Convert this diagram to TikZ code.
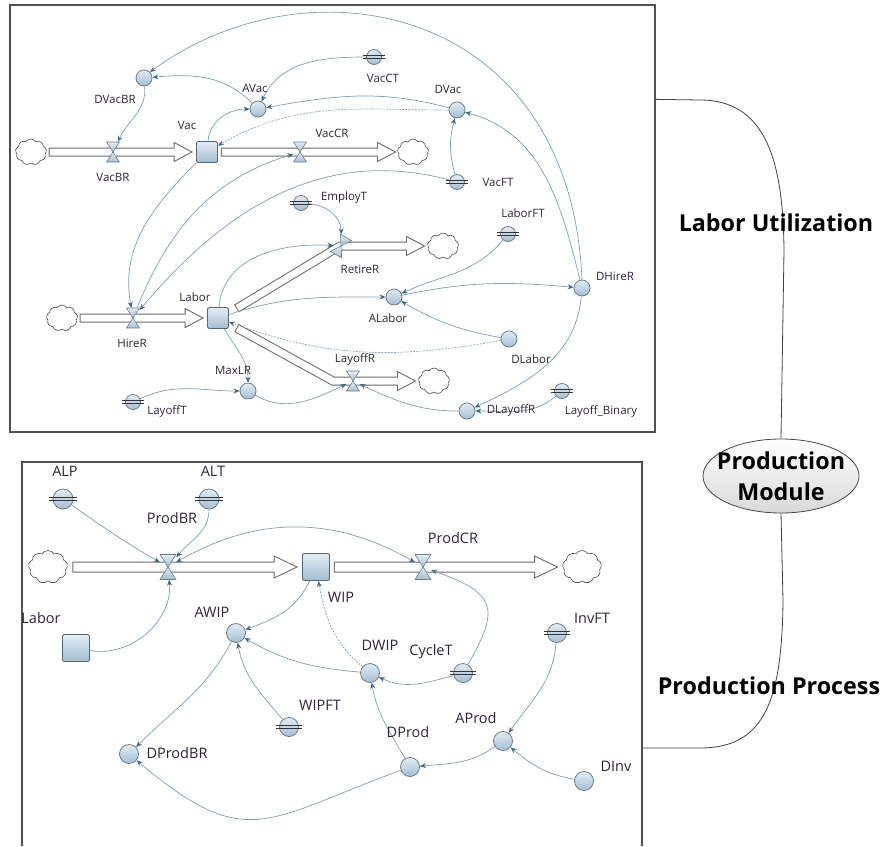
\documentclass[tikz,border=0pt]{standalone}
\usepackage{fontspec}
\setmainfont{Open Sans}
\usetikzlibrary{arrows.meta,calc,shapes.geometric,shapes.symbols}
\definecolor{lnc}{HTML}{7F9DB6}
\definecolor{arc}{HTML}{3F6A8C}
\definecolor{txc}{HTML}{2E2438}
\definecolor{edg}{HTML}{6E7D8A}
\definecolor{fillt}{HTML}{E2EDF5}
\definecolor{fillb}{HTML}{A3BDD2}
\definecolor{pipec}{HTML}{6A6A6A}
\definecolor{panelc}{HTML}{505050}
\tikzset{
 conn/.style={draw=lnc, line width=0.7pt, -{Stealth[length=6pt,width=5pt,color=arc]}},
 biconn/.style={draw=lnc, line width=0.7pt, {Stealth[length=6pt,width=5pt,color=arc]}-{Stealth[length=6pt,width=5pt,color=arc]}},
 dotc/.style={conn, dash pattern=on 1.8pt off 1.4pt},
 aux/.style={circle, draw=edg, line width=0.8pt, top color=fillt, bottom color=fillb, inner sep=0pt, minimum size=#1},
 stock/.style={rectangle, rounded corners=2pt, draw=edg!80!black, line width=0.9pt, top color=fillt, bottom color=fillb, inner sep=0pt, minimum size=#1},
 valvenode/.style={rectangle, inner sep=0pt, draw=none},
 valvefill/.style={draw=edg, line width=0.6pt, top color=fillt, bottom color=fillb, line join=round},
 barc/.style={draw=black!80, line width=1.1pt},
 cloudT/.style={cloud, cloud puffs=9, cloud puff arc=115, cloud ignores aspect, draw=gray!60!black, line width=0.6pt, fill=white, inner sep=0pt, minimum width=31pt, minimum height=26pt},
 cloudB/.style={cloudT, minimum width=39pt, minimum height=33pt},
 pipeo/.style={draw=pipec, line width=#1, line join=miter},
 pipei/.style={draw=white, line width=#1, line join=miter, shorten <=1pt, shorten >=-1.3pt},
 pipeh/.style={draw=pipec, fill=white, line width=0.9pt, line join=miter},
 labT/.style={text=txc, font=\fontsize{11.5}{13}\selectfont, inner sep=0pt},
 labB/.style={text=txc, font=\fontsize{14.5}{16}\selectfont, inner sep=0pt},
 bigl/.style={text=black, font=\fontsize{23.3}{31}\selectfont\bfseries, inner sep=0pt, align=center},
 panel/.style={draw=panelc, line width=1.3pt},
 brace/.style={draw=black!75, line width=0.8pt},
}
\newcommand\mkvalve[6]{%
 \node[valvenode, minimum width=#4pt, minimum height=#5pt, rotate=#6] (#1) at (#2,#3) {};
 \begin{scope}[shift={(#2,#3)}, rotate=#6]
  \path[valvefill] ({-#4/2},{#5/2}) -- ({#4/2},{#5/2}) -- (0,0) -- cycle;
  \path[valvefill] ({-#4/2},{-#5/2}) -- ({#4/2},{-#5/2}) -- (0,0) -- cycle;
 \end{scope}}
\newcommand\constnode[4]{%
 \node[aux=#4pt] (#1) at (#2,#3) {};
 \draw[barc] ($(#1.west)+(-3.5,1.3)$) -- ($(#1.east)+(3.5,1.3)$);
 \draw[barc] ($(#1.west)+(-3.5,-1.3)$) -- ($(#1.east)+(3.5,-1.3)$);}
\newcommand\pipeT[2]{%
 \draw[pipeo=9pt] #1;
 \filldraw[pipeh] ($(#2)+(-18,9.5)$) -- (#2) -- ($(#2)+(-18,-9.5)$) -- cycle;
 \draw[pipei=7pt] #1;}
\newcommand\pipeB[2]{%
 \draw[pipeo=11pt] #1;
 \filldraw[pipeh] ($(#2)+(-23,11)$) -- (#2) -- ($(#2)+(-23,-11)$) -- cycle;
 \draw[pipei=9pt] #1;}
\begin{document}
\begin{tikzpicture}[x=1pt,y=1pt]
\useasboundingbox (0,0) rectangle (885,-846);
% panels
\node[panel, minimum width=645pt, minimum height=427pt, inner sep=0pt] (topP) at (332.5,-218.5) {};
\coordinate (bp1) at (22,-846);
\coordinate (bp2) at (22,-462);
\coordinate (bp3) at (642,-462);
\coordinate (bp4) at (642,-846);
\draw[panel] (bp1) -- (bp2) -- (bp3) -- (bp4);

% ---------- top panel nodes ----------
\node[cloudT] (c1) at (31,-152) {};
\node[stock=21pt] (Vac) at (207,-152) {};
\node[cloudT] (c2) at (413,-152) {};
\node[cloudT] (c3) at (62,-318) {};
\node[stock=21pt] (Labor) at (218,-318) {};
\node[cloudT] (c4) at (443,-246) {};
\node[cloudT] (c5) at (434,-381) {};
\node[aux=16pt] (DVacBR) at (144,-78) {};
\node[aux=16pt] (AVac) at (258,-109) {};
\constnode{VacCT}{374}{-57}{15}
\node[aux=16pt] (DVac) at (457,-110) {};
\constnode{VacFT}{457}{-182}{15}
\constnode{EmployT}{301}{-203}{15}
\constnode{LaborFT}{508}{-234}{15}
\node[aux=16pt] (DHireR) at (582,-288) {};
\node[aux=16pt] (ALabor) at (394,-297) {};
\node[aux=16pt] (DLabor) at (509,-339) {};
\node[aux=16pt] (MaxLR) at (248,-391) {};
\constnode{LayoffT}{133}{-402}{15}
\node[aux=16pt] (DLayoffR) at (467,-411) {};
\constnode{LayoffBin}{562}{-391}{15}

% top pipes
\coordinate (VacBRs) at ($(c1.east)+(2,0)$);
\coordinate (VacBRt) at ($(Vac.west)+(-4,0)$);
\coordinate (VacBRb) at ($(VacBRt)+(-18,0)$);
\pipeT{(VacBRs) -- (VacBRb)}{VacBRt}
\coordinate (VacCRs) at ($(Vac.east)+(3,0)$);
\coordinate (VacCRt) at ($(c2.west)+(-2,0)$);
\coordinate (VacCRb) at ($(VacCRt)+(-18,0)$);
\pipeT{(VacCRs) -- (VacCRb)}{VacCRt}
\coordinate (HireRs) at ($(c3.east)+(2,0)$);
\coordinate (HireRt) at ($(Labor.west)+(-4,0)$);
\coordinate (HireRb) at ($(HireRt)+(-18,0)$);
\pipeT{(HireRs) -- (HireRb)}{HireRt}
\coordinate (RetRs) at ($(Labor.north east)+(7.5,-1.5)$);
\coordinate (RetRk) at (340,-246);
\coordinate (RetRt) at ($(c4.west)+(-3,0)$);
\coordinate (RetRb) at ($(RetRt)+(-18,0)$);
\pipeT{(RetRs) -- (RetRk) -- (RetRb)}{RetRt}
\coordinate (LayRs) at ($(Labor.south east)+(7.5,1)$);
\coordinate (LayRk) at (333,-381);
\coordinate (LayRt) at ($(c5.west)+(-3,0)$);
\coordinate (LayRb) at ($(LayRt)+(-18,0)$);
\pipeT{(LayRs) -- (LayRk) -- (LayRb)}{LayRt}

% top valves
\mkvalve{VacBRv}{113}{-152}{13}{20}{0}
\mkvalve{VacCRv}{300}{-152}{13}{20}{0}
\mkvalve{HireRv}{133}{-318}{13}{20}{0}
\mkvalve{RetireRv}{341}{-246}{13}{20}{-30}
\mkvalve{LayoffRv}{353}{-381}{13}{20}{0}

% top connectors
\draw[conn] (DHireR.north) .. controls (570,-5) and (310,45) .. (DVacBR.north east);
\draw[conn] (AVac) to[out=135,in=5] (DVacBR);
\draw[conn] (DVacBR) to[out=-85,in=65] (VacBRv);
\draw[conn] (VacCT) to[out=180,in=65] (AVac);
\draw[conn] (DVac) to[out=165,in=10] (AVac);
\draw[dotc] (DVac) to[out=180,in=30] (Vac);
\draw[conn] (Vac) to[out=85,in=180] (AVac);
\draw[conn] (VacFT) to[out=105,in=-105] (DVac);
\draw[conn] (DHireR) to[out=104,in=-15] (DVac);
\draw[conn] (HireRv) to[out=68,in=197] (VacCRv);
\draw[conn] (Vac) to[out=225,in=100] (HireRv);
\draw[conn] (VacFT) to[out=165,in=50] (HireRv);
\draw[conn] (EmployT) to[out=-5,in=100] (RetireRv);
\draw[conn] (Labor) to[out=85,in=180] (RetireRv);
\draw[conn] (Labor) to[out=18,in=180] (ALabor);
\draw[conn] (LaborFT) to[out=-130,in=25] (ALabor);
\draw[conn] (ALabor) to[out=12,in=175] (DHireR);
\draw[conn] (DLabor) to[out=170,in=-30] (ALabor);
\draw[dotc] (DLabor) to[out=190,in=-20] (Labor);
\draw[conn] (Labor) to[out=-60,in=90] (MaxLR);
\draw[conn] (LayoffT) to[out=25,in=180] (MaxLR);
\draw[conn] (MaxLR) to[out=-30,in=205] (LayoffRv);
\draw[conn] (DLayoffR) to[out=180,in=-25] (LayoffRv);
\draw[conn] (DHireR) to[out=-95,in=25] (DLayoffR);
\draw[conn] (LayoffBin) to[out=-140,in=0] (DLayoffR);

% top labels
\node[labT] (lDVacBR) at (115,-99) {DVacBR};
\node[labT] (lAVac) at (255,-88) {AVac};
\node[labT] (lVac) at (187,-125) {Vac};
\node[labT] (lVacBR) at (113,-177) {VacBR};
\node[labT] (lVacCR) at (332,-133) {VacCR};
\node[labT] (lVacCT) at (383,-78) {VacCT};
\node[labT] (lDVac) at (448,-89) {DVac};
\node[labT] (lVacFT) at (498,-182) {VacFT};
\node[labT] (lEmployT) at (344,-198) {EmployT};
\node[labT] (lLaborFT) at (523,-213) {LaborFT};
\node[labT] (lRetireR) at (360,-269) {RetireR};
\node[labT] (lLabor) at (195,-297) {Labor};
\node[labT] (lHireR) at (132,-343) {HireR};
\node[labT] (lDHireR) at (615,-276) {DHireR};
\node[labT] (lALabor) at (388,-318) {ALabor};
\node[labT] (lDLabor) at (531,-359) {DLabor};
\node[labT] (lLayoffR) at (355,-359) {LayoffR};
\node[labT] (lMaxLR) at (233,-370) {MaxLR};
\node[labT] (lLayoffT) at (167,-411) {LayoffT};
\node[labT] (lDLayoffR) at (511,-410) {DLayoffR};
\node[labT] (lLayoffBin) at (601,-411) {Layoff\_Binary};

% ---------- bottom panel nodes ----------
\constnode{ALP}{63}{-499}{20}
\constnode{ALT}{209}{-499}{20}
\node[cloudB] (c6) at (48,-567) {};
\node[stock=27pt] (WIP) at (316,-567) {};
\node[cloudB] (c7) at (582,-567) {};
\node[stock=27pt] (LaborB) at (76,-648) {};
\node[aux=19pt] (AWIP) at (236,-633) {};
\node[aux=19pt] (DWIP) at (370,-673) {};
\constnode{CycleT}{463}{-673}{19}
\constnode{InvFT}{557}{-633}{19}
\constnode{WIPFT}{289}{-727}{19}
\node[aux=19pt] (AProd) at (503,-741) {};
\node[aux=19pt] (DProd) at (410,-767) {};
\node[aux=19pt] (DProdBR) at (129,-754) {};
\node[aux=19pt] (DInv) at (584,-781) {};

% bottom pipes
\coordinate (PBRs) at ($(c6.east)+(5,0)$);
\coordinate (PBRt) at ($(WIP.west)+(-5,0)$);
\coordinate (PBRb) at ($(PBRt)+(-23,0)$);
\pipeB{(PBRs) -- (PBRb)}{PBRt}
\coordinate (PCRs) at ($(WIP.east)+(4,0)$);
\coordinate (PCRt) at ($(c7.west)+(-5,0)$);
\coordinate (PCRb) at ($(PCRt)+(-23,0)$);
\pipeB{(PCRs) -- (PCRb)}{PCRt}

\mkvalve{ProdBRv}{168}{-567}{16}{25}{0}
\mkvalve{ProdCRv}{423}{-567}{16}{25}{0}

% bottom connectors
\draw[conn] (ALP) to[out=-35,in=150] (ProdBRv);
\draw[conn] (ALT) to[out=-90,in=50] (ProdBRv);
\draw[biconn] (ProdBRv) to[out=30,in=150] (ProdCRv);
\draw[conn] (LaborB) to[out=-10,in=-85] (ProdBRv);
\draw[conn] (WIP) to[out=-115,in=20] (AWIP);
\draw[dotc] (DWIP) to[out=140,in=-80] (WIP);
\draw[conn] (DWIP) to[out=175,in=-30] (AWIP);
\draw[conn] (CycleT) to[out=195,in=-25] (DWIP);
\draw[conn] (CycleT) to[out=60,in=-20,looseness=1.7] (ProdCRv);
\draw[conn] (WIPFT) to[out=130,in=-80] (AWIP);
\draw[conn] (AWIP) to[out=-118,in=45] (DProdBR);
\draw[conn] (DProd) to[out=-160,in=-40,looseness=1.4] (DProdBR);
\draw[conn] (DProd) to[out=120,in=-80] (DWIP);
\draw[conn] (AProd) to[out=-145,in=5] (DProd);
\draw[conn] (InvFT) to[out=-95,in=55] (AProd);
\draw[conn] (DInv) to[out=170,in=-40] (AProd);

% bottom labels
\node[labB] (lALP) at (65,-471) {ALP};
\node[labB] (lALT) at (213,-471) {ALT};
\node[labB] (lProdBR) at (172,-518) {ProdBR};
\node[labB] (lLaborB) at (41,-618) {Labor};
\node[labB] (lWIP) at (341,-597) {WIP};
\node[labB] (lProdCR) at (453,-538) {ProdCR};
\node[labB] (lAWIP) at (212,-612) {AWIP};
\node[labB] (lDWIP) at (380,-645) {DWIP};
\node[labB] (lCycleT) at (431,-652) {CycleT};
\node[labB] (lInvFT) at (592,-618) {InvFT};
\node[labB] (lWIPFT) at (320,-705) {WIPFT};
\node[labB] (lAProd) at (476,-718) {AProd};
\node[labB] (lDProd) at (408,-732) {DProd};
\node[labB] (lDProdBR) at (177,-753) {DProdBR};
\node[labB] (lDInv) at (616,-766) {DInv};

% ---------- right side ----------
\node[ellipse, draw=gray!55!black, line width=0.8pt, top color=white, bottom color=gray!30, minimum width=156pt, minimum height=74pt, inner sep=0pt] (ProdMod) at (781,-476) {};
\node[bigl] (lProdMod) at (781,-476) {Production\\Module};
\coordinate (topB) at ($(topP.north east)+(0,-95)$);
\coordinate (botB) at (642,-748);
\draw[brace] (topB) -- (700,-100) .. controls (768,-100) and (783,-165) .. (784,-250) -- (ProdMod.north);
\draw[brace] (ProdMod.south) -- (783,-600) .. controls (782,-700) and (765,-748) .. (700,-748) -- (botB);
\node[bigl] (lLU) at (776,-223) {Labor Utilization};
\node[bigl] (lPP) at (769,-686) {Production Process};
\end{tikzpicture}
\end{document}
